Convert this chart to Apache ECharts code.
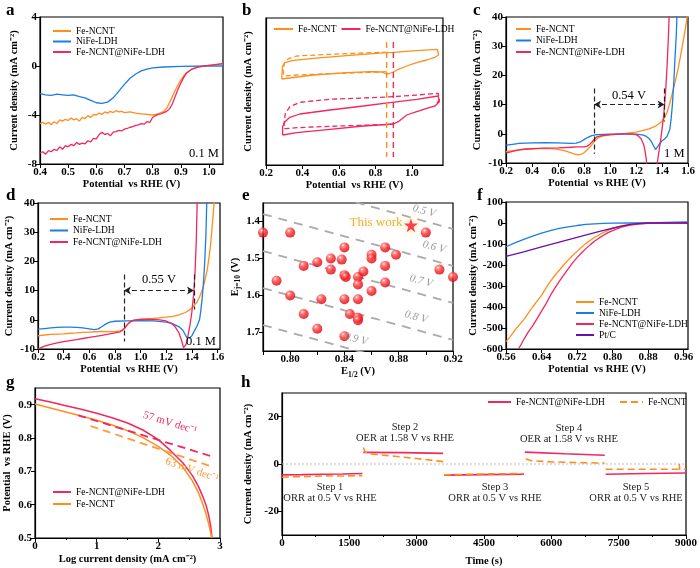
<!DOCTYPE html>
<html><head><meta charset="utf-8">
<script src="https://cdn.jsdelivr.net/npm/echarts@6/dist/echarts.min.js"></script>
<style>html,body{margin:0;padding:0;background:#fff}#c{width:700px;height:568px}</style>
</head><body><div id="c"></div>
<script>
// ---------- DATA ----------
// (a) ORR LSV in 0.1 M
const aFe = [[0.40,-4.7],[0.41,-4.6],[0.42,-4.75],[0.43,-4.6],[0.44,-4.8],[0.45,-4.55],[0.46,-4.7],[0.47,-4.4],[0.48,-4.5],[0.49,-4.35],[0.50,-4.45],[0.51,-4.25],[0.52,-4.4],[0.53,-4.3],[0.54,-4.5],[0.55,-4.2],[0.56,-4.3],[0.57,-4.05],[0.58,-4.2],[0.59,-3.95],[0.60,-4.0],[0.61,-3.85],[0.62,-3.95],[0.63,-3.75],[0.64,-3.85],[0.65,-3.7],[0.66,-3.8],[0.67,-3.65],[0.68,-3.75],[0.69,-3.7],[0.70,-3.8],[0.72,-3.75],[0.74,-3.85],[0.76,-3.9],[0.78,-3.95],[0.80,-4.0],[0.82,-3.9],[0.84,-3.7],[0.85,-3.45],[0.86,-3.0],[0.87,-2.5],[0.88,-2.0],[0.89,-1.55],[0.90,-1.15],[0.91,-0.8],[0.92,-0.55],[0.94,-0.25],[0.96,-0.1],[0.98,0],[1.00,0.05],[1.02,0.1],[1.05,0.2]];
const aNiFe = [[0.40,-2.25],[0.42,-2.35],[0.44,-2.4],[0.46,-2.3],[0.48,-2.35],[0.50,-2.4],[0.52,-2.35],[0.54,-2.5],[0.56,-2.6],[0.58,-2.8],[0.60,-3.0],[0.62,-3.05],[0.64,-2.95],[0.66,-2.6],[0.68,-2.05],[0.70,-1.5],[0.72,-1.0],[0.74,-0.65],[0.76,-0.4],[0.78,-0.25],[0.80,-0.15],[0.84,-0.08],[0.90,-0.03],[1.00,0],[1.05,0]];
const aHyb = [[0.40,-7.1],[0.41,-7.0],[0.42,-7.2],[0.43,-6.9],[0.44,-7.0],[0.45,-6.8],[0.46,-6.9],[0.47,-6.6],[0.48,-6.8],[0.49,-6.5],[0.50,-6.6],[0.51,-6.4],[0.52,-6.5],[0.53,-6.25],[0.54,-6.4],[0.55,-6.3],[0.56,-6.35],[0.57,-6.1],[0.58,-6.2],[0.59,-5.9],[0.60,-5.95],[0.61,-5.6],[0.62,-5.4],[0.63,-5.6],[0.64,-5.5],[0.65,-5.7],[0.66,-5.4],[0.67,-5.35],[0.68,-5.25],[0.69,-5.3],[0.70,-5.15],[0.71,-5.1],[0.72,-5.0],[0.73,-4.95],[0.74,-4.85],[0.75,-4.8],[0.76,-4.7],[0.77,-4.75],[0.78,-4.55],[0.79,-4.6],[0.80,-4.2],[0.81,-4.05],[0.82,-3.95],[0.83,-3.9],[0.84,-3.8],[0.85,-3.7],[0.86,-3.5],[0.87,-3.1],[0.88,-2.5],[0.89,-1.9],[0.90,-1.4],[0.91,-0.95],[0.92,-0.6],[0.94,-0.25],[0.96,-0.1],[1.00,0.05],[1.05,0.2]];
// (b) CV loops (relative current)
const bFeSolid = [[0.286,86],[0.290,98.3],[0.304,102.3],[0.341,104.3],[0.459,106.7],[0.642,109.3],[0.861,112.3],[0.898,112.7],[1.026,114.3],[1.139,115.7],[1.146,115],[1.146,110],[1.126,107.7],[1.080,105],[1.026,102.3],[0.971,99],[0.925,95.7],[0.898,93],[0.870,91],[0.852,91.7],[0.834,93],[0.770,93.3],[0.642,92.3],[0.459,90],[0.286,86]];
const bFeDash = [[0.861,93.3],[0.551,91.3],[0.368,90],[0.299,89],[0.295,93.3],[0.300,101.7],[0.322,106.3],[0.368,109],[0.551,110.7],[0.733,112],[0.861,112.7]];
const bHybSolid = [[0.291,30],[0.291,38.3],[0.304,43.3],[0.331,47.7],[0.386,51],[0.551,55],[0.733,59],[0.879,62.3],[1.026,65.7],[1.144,69],[1.150,69],[1.150,63.3],[1.126,59],[1.099,57.7],[1.026,53.3],[0.971,50],[0.925,43.3],[0.898,41],[0.733,39],[0.551,35.7],[0.368,32.3],[0.291,30]];
const bHybDash = [[0.898,40.7],[0.551,38.7],[0.368,37.3],[0.300,36.3],[0.299,41.7],[0.306,51.7],[0.331,58.3],[0.386,62.7],[0.551,65.7],[0.733,67],[0.898,68.3],[1.026,70],[1.144,71.7],[1.150,71],[1.150,65],[1.126,59.7]];
const bMarkV = [0.861, 0.898];
// (c) 1 M
const cFe = [[0.2,-6.0],[0.25,-5.8],[0.3,-5.5],[0.35,-5.3],[0.4,-5.2],[0.45,-5.1],[0.5,-5.0],[0.55,-5.1],[0.6,-5.3],[0.65,-5.8],[0.7,-6.5],[0.73,-7.0],[0.76,-7.2],[0.78,-7.0],[0.8,-6.5],[0.82,-5.7],[0.84,-4.8],[0.86,-3.8],[0.88,-2.6],[0.9,-1.7],[0.92,-1.1],[0.95,-0.7],[1.0,-0.4],[1.05,-0.2],[1.1,0],[1.15,0.3],[1.2,0.6],[1.25,1.1],[1.3,1.7],[1.35,2.6],[1.38,3.5],[1.4,4.3],[1.42,5.5],[1.44,7.5],[1.46,10.5],[1.48,14],[1.5,17.5],[1.52,21.5],[1.54,26],[1.56,31],[1.58,36],[1.595,40.5]];
const cNiFe = [[0.2,-3.9],[0.25,-3.6],[0.3,-3.3],[0.35,-3.2],[0.4,-3.1],[0.5,-3.0],[0.6,-3.1],[0.7,-3.3],[0.74,-3.2],[0.77,-2.8],[0.8,-2.0],[0.83,-1.2],[0.86,-0.6],[0.9,-0.3],[1.0,-0.15],[1.1,0],[1.2,-0.1],[1.25,-0.4],[1.28,-0.9],[1.3,-1.6],[1.32,-2.8],[1.34,-4.5],[1.35,-5.4],[1.36,-5.0],[1.38,-3.5],[1.4,-2.4],[1.42,-1.8],[1.44,-0.8],[1.46,1.5],[1.47,5],[1.48,10],[1.49,17],[1.5,26],[1.51,34],[1.515,40.5]];
const cHyb = [[0.2,-6.6],[0.25,-6.0],[0.3,-5.5],[0.35,-5.2],[0.4,-5.1],[0.5,-4.9],[0.6,-4.8],[0.7,-4.6],[0.75,-4.5],[0.8,-4.5],[0.82,-4.3],[0.84,-3.8],[0.86,-2.9],[0.88,-1.8],[0.9,-1.0],[0.95,-0.5],[1.0,-0.3],[1.1,0],[1.15,0],[1.2,-0.3],[1.22,-0.8],[1.24,-1.8],[1.26,-3.8],[1.27,-6],[1.28,-9],[1.285,-12],[1.30,-18],[1.34,-16],[1.36,-11],[1.37,-8],[1.38,-5],[1.39,-2],[1.40,1.5],[1.41,5],[1.42,10],[1.43,16],[1.44,24],[1.45,34],[1.455,40.5]];
const cGap = {left:0.877, right:1.42, j:10, top:15.5, leftLow:-6.8, rightLow:4.2};
// (d) 0.1 M
const dFe = [[0.2,-5.5],[0.25,-5.2],[0.3,-5.0],[0.35,-4.9],[0.4,-4.8],[0.45,-4.6],[0.5,-4.5],[0.55,-4.3],[0.6,-4.2],[0.65,-4.1],[0.7,-4.0],[0.75,-4.05],[0.8,-4.0],[0.84,-3.8],[0.86,-3.4],[0.88,-2.6],[0.9,-1.5],[0.92,-0.7],[0.95,-0.1],[1.0,0.2],[1.1,0.5],[1.2,0.9],[1.25,1.2],[1.3,1.7],[1.35,2.5],[1.38,3.3],[1.4,4.0],[1.42,5.0],[1.44,6.0],[1.46,7.8],[1.48,10],[1.5,13],[1.52,17],[1.53,20],[1.545,25],[1.555,30],[1.565,35],[1.575,40.5]];
const dNiFe = [[0.2,-3.2],[0.25,-3.0],[0.3,-2.8],[0.35,-2.6],[0.4,-2.5],[0.45,-2.5],[0.5,-2.6],[0.55,-2.8],[0.6,-3.1],[0.64,-3.4],[0.67,-3.1],[0.7,-2.3],[0.73,-1.4],[0.76,-0.8],[0.8,-0.5],[0.9,-0.35],[1.0,-0.3],[1.1,-0.4],[1.2,-0.8],[1.25,-1.3],[1.3,-2.4],[1.33,-3.6],[1.36,-6.0],[1.38,-6.3],[1.4,-5.5],[1.42,-3.8],[1.44,-2.2],[1.46,0],[1.47,3],[1.48,7],[1.49,12],[1.50,19],[1.51,29],[1.517,40.5]];
const dHyb = [[0.2,-10],[0.22,-9.6],[0.25,-9.0],[0.3,-8.4],[0.35,-7.9],[0.4,-7.5],[0.45,-7.1],[0.5,-6.8],[0.55,-6.4],[0.6,-6.0],[0.65,-5.7],[0.7,-5.3],[0.75,-4.9],[0.8,-4.5],[0.84,-4.1],[0.86,-3.6],[0.88,-2.7],[0.9,-1.5],[0.92,-0.7],[0.95,-0.1],[1.0,0.1],[1.1,0.1],[1.15,0],[1.2,-0.4],[1.24,-1.2],[1.27,-2.4],[1.3,-4.5],[1.32,-7],[1.335,-9.5],[1.345,-9.9],[1.355,-8.5],[1.37,-5.5],[1.385,-2],[1.40,2.5],[1.415,9],[1.425,16],[1.435,27],[1.442,40.5]];
const dGap = {left:0.87, right:1.417, j:10, top:15.5, leftLow:-7.4, rightLow:3.5};
// (e) E_j=10 vs E_1/2 comparison
const ePoints = [[0.78,1.43],[0.80,1.43],[0.79,1.56],[0.80,1.60],[0.81,1.52],[0.81,1.65],[0.82,1.51],[0.82,1.69],[0.83,1.50],[0.83,1.53],[0.823,1.61],[0.838,1.503],[0.84,1.47],[0.84,1.545],[0.841,1.55],[0.84,1.61],[0.84,1.71],[0.844,1.65],[0.85,1.55],[0.85,1.57],[0.85,1.61],[0.85,1.66],[0.85,1.667],[0.854,1.535],[0.86,1.49],[0.86,1.50],[0.86,1.588],[0.87,1.47],[0.87,1.52],[0.87,1.565],[0.878,1.49],[0.90,1.43],[0.91,1.53],[0.92,1.55]];
const eThisWork = [0.889, 1.41];
const eOffsets = [0.5, 0.6, 0.7, 0.8, 0.9];
// (f) high-current ORR
const fFe = [[0.56,-565],[0.57,-540],[0.58,-510],[0.59,-485],[0.60,-460],[0.61,-430],[0.62,-400],[0.63,-372],[0.64,-345],[0.65,-310],[0.66,-278],[0.67,-250],[0.68,-225],[0.69,-200],[0.70,-177],[0.71,-155],[0.72,-135],[0.73,-115],[0.74,-97],[0.75,-82],[0.76,-68],[0.77,-56],[0.78,-45],[0.79,-35],[0.80,-26],[0.82,-14],[0.84,-7],[0.86,-3],[0.88,-1],[0.90,0],[0.93,1],[0.97,2]];
const fNiFe = [[0.56,-113],[0.58,-95],[0.60,-78],[0.62,-62],[0.64,-48],[0.66,-36],[0.68,-26],[0.70,-18],[0.72,-12],[0.74,-7],[0.76,-4],[0.78,-2],[0.80,-1],[0.84,0],[0.88,1],[0.92,3],[0.97,5]];
const fHyb = [[0.588,-600],[0.595,-575],[0.60,-555],[0.61,-520],[0.62,-490],[0.63,-455],[0.64,-420],[0.65,-385],[0.66,-345],[0.67,-310],[0.68,-278],[0.69,-248],[0.70,-218],[0.71,-190],[0.72,-165],[0.73,-143],[0.74,-122],[0.75,-103],[0.76,-86],[0.77,-71],[0.78,-58],[0.79,-46],[0.80,-36],[0.82,-20],[0.84,-10],[0.86,-5],[0.88,-2],[0.90,-1],[0.93,0],[0.97,0]];
const fPtC = [[0.56,-159],[0.60,-137],[0.64,-114],[0.68,-91],[0.72,-68],[0.76,-46],[0.78,-35],[0.80,-25],[0.82,-15],[0.84,-7],[0.86,-2],[0.88,0],[0.97,0]];
// (g) Tafel
const gHyb = [[0,0.918],[0.25,0.908],[0.5,0.897],[0.75,0.886],[1.0,0.874],[1.25,0.861],[1.5,0.845],[1.75,0.824],[2.0,0.795],[2.2,0.762],[2.4,0.725],[2.55,0.688],[2.65,0.655],[2.72,0.625],[2.78,0.595],[2.82,0.565],[2.85,0.535],[2.87,0.5]];
const gFe = [[0,0.902],[0.25,0.890],[0.5,0.878],[0.75,0.866],[1.0,0.853],[1.25,0.839],[1.5,0.822],[1.75,0.801],[2.0,0.775],[2.2,0.748],[2.4,0.712],[2.55,0.672],[2.65,0.636],[2.72,0.603],[2.78,0.568],[2.82,0.54],[2.85,0.515],[2.865,0.5]];
const gHybTafel = [[0.7,0.868],[2.9,0.743]];
const gFeTafel = [[0.9,0.836],[2.9,0.712]];
// (h) chronoamperometry
const hHyb = [[0,-4.6],[450,-4.5],[900,-4.3],[1350,-4.2],[1790,-4.0],[1800,'-'],[1810,4.9],[2700,4.8],[3590,4.5],[3600,'-'],[3610,-4.7],[4500,-4.5],[5390,-4.3],[5400,'-'],[5410,5.0],[6300,4.3],[7190,3.7],[7200,'-'],[7210,-4.3],[8100,-4.0],[9000,-3.8]];
const hFe = [[0,-5.6],[300,-5.4],[600,-5.3],[940,-5.0],[950,-4.2],[960,-5.1],[1300,-5.1],[1790,-4.9],[1800,'-'],[1815,7.0],[1850,5.0],[1950,4.3],[2400,3.5],[3000,2.3],[3590,1.0],[3600,'-'],[3610,-4.6],[4500,-4.2],[5390,-4.0],[5400,'-'],[5430,2.2],[5550,1.4],[6000,0.9],[6600,0.6],[7190,0.4],[7200,'-'],[7210,-2.2],[8840,-2.2],[8850,0],[8860,-2.3],[9000,-2.2]];
const hZero = [[0,0],[9000,0]];
// tick labels
const eXTicks = [0.80, 0.84, 0.88, 0.92];
const eXMinor = [0.78, 0.80, 0.82, 0.84, 0.86, 0.88, 0.90, 0.92];
const eYTicks = [1.4, 1.5, 1.6, 1.7];
const hYTicks = [-20, 0, 20];

// ---------- STYLE ----------
const F = '"Liberation Serif","Times New Roman",serif';
const OR = '#FF8E1C', BL = '#1B7DE4', PK = '#F0285E', PU = '#6E10A6';
function isObj(o){return o && typeof o === 'object' && !Array.isArray(o);}
function merge(a,b){for(const k in b){if(isObj(b[k])&&isObj(a[k]))merge(a[k],b[k]);else a[k]=b[k];}return a;}
const grids = [
  {left:40,top:17,width:183,height:147},
  {left:266,top:18,width:177,height:147},
  {left:506,top:17,width:182,height:146},
  {left:38,top:203,width:182,height:146},
  {left:263,top:203,width:190,height:148},
  {left:506,top:202,width:182,height:147},
  {left:35,top:388,width:185,height:150},
  {left:282,top:393,width:405,height:142}
].map(g=>Object.assign({show:true,borderColor:'#000',borderWidth:1.2,backgroundColor:'transparent'},g));
function ax(grid,o){
  return merge({gridIndex:grid,type:'value',
    axisLine:{show:true,onZero:false,lineStyle:{color:'#000',width:1.2}},
    axisTick:{show:true,inside:false,length:4,lineStyle:{color:'#000',width:1}},
    axisLabel:{color:'#000',fontFamily:F,fontWeight:'bold',fontSize:11,margin:3},
    splitLine:{show:false},nameLocation:'middle',
    nameTextStyle:{color:'#000',fontFamily:F,fontWeight:'bold',fontSize:10.5}},o);
}
const f1 = v=>v.toFixed(1), f2 = v=>v.toFixed(2), f0 = v=>String(Math.round(v));
const POT = 'Potential  vs RHE (V)', CD = 'Current density (mA cm\u207B\u00B2)';
const subRich = {b:{fontFamily:F,fontWeight:'bold',fontSize:10.5,lineHeight:15,color:'#000'},s:{fontFamily:F,fontWeight:'bold',fontSize:7.5,lineHeight:7,verticalAlign:'bottom',color:'#000'}};
const xAxes = [
  ax(0,{min:0.4,max:1.05,interval:0.1,axisLabel:{formatter:f1,showMaxLabel:false},name:POT,nameGap:13}),
  ax(1,{min:0.2,max:1.17,interval:0.2,axisLabel:{formatter:f1,showMaxLabel:false},name:POT,nameGap:13}),
  ax(2,{min:0.2,max:1.6,interval:0.2,axisLabel:{formatter:f1},name:POT,nameGap:13}),
  ax(3,{min:0.2,max:1.62,interval:0.2,axisLabel:{formatter:f1,showMaxLabel:false},name:POT,nameGap:15}),
  ax(4,{min:0.78,max:0.92,axisLabel:{formatter:f2,customValues:eXTicks},axisTick:{customValues:eXMinor},name:'{b|E}{s|1/2}{b| (V)}',nameGap:11,nameTextStyle:{rich:subRich}}),
  ax(5,{min:0.56,max:0.97,interval:0.08,axisLabel:{formatter:f2,showMaxLabel:false},name:POT,nameGap:15}),
  ax(6,{min:0,max:3,interval:1,axisLabel:{formatter:f0},minorTick:{show:true,splitNumber:2,length:2,lineStyle:{color:'#000'}},name:'Log current density (mA cm\u207B\u00B2)',nameGap:16}),
  ax(7,{min:0,max:9000,interval:1500,axisLabel:{formatter:f0},minorTick:{show:true,splitNumber:2,length:2,lineStyle:{color:'#000'}},name:'Time (s)',nameGap:21})
];
const yAxes = [
  ax(0,{min:-8,max:4,interval:4,axisLabel:{formatter:f0},name:CD,nameGap:20}),
  ax(1,{min:0,max:147,axisLabel:{show:false},axisTick:{show:false},name:CD,nameGap:12}),
  ax(2,{min:-10,max:40,interval:10,axisLabel:{formatter:f0},name:CD,nameGap:23}),
  ax(3,{min:-10,max:40,interval:10,axisLabel:{formatter:f0},name:CD,nameGap:23}),
  ax(4,{min:1.35,max:1.75,inverse:true,axisLabel:{formatter:f1,customValues:eYTicks},axisTick:{customValues:eYTicks},name:'{b|E}{s|j=10}{b| (V)}',nameGap:14,nameTextStyle:{rich:subRich}}),
  ax(5,{min:-600,max:100,interval:100,axisLabel:{formatter:f0},name:CD,nameGap:26}),
  ax(6,{min:0.5,max:0.95,interval:0.1,axisLabel:{formatter:f1,showMaxLabel:false},name:'Potential  vs RHE (V)',nameGap:22}),
  ax(7,{min:-30,max:30,axisLabel:{formatter:f0,customValues:hYTicks},axisTick:{customValues:hYTicks},name:CD,nameGap:24})
];
function ln(name,g,data,color,extra){
  return merge({type:'line',name:name,xAxisIndex:g,yAxisIndex:g,data:data,symbol:'none',showSymbol:false,clip:true,silent:true,
    lineStyle:{color:color,width:1.3},itemStyle:{color:color}},extra||{});
}
function gapMarks(g){
  return {silent:true,label:{show:false},lineStyle:{type:[5,3],color:'#222',width:1.2},
    data:[
      [{coord:[g.left,g.j],symbol:'arrow',symbolSize:[6,7]},{coord:[g.right,g.j],symbol:'arrow',symbolSize:[6,7]}],
      [{coord:[g.left,g.top],symbol:'none'},{coord:[g.left,g.leftLow],symbol:'none'}],
      [{coord:[g.right,g.top],symbol:'none'},{coord:[g.right,g.rightLow],symbol:'none'}]
    ]};
}
const series = [
  ln('a:Fe-NCNT',0,aFe,OR), ln('a:NiFe-LDH',0,aNiFe,BL), ln('a:Fe-NCNT@NiFe-LDH',0,aHyb,PK),
  ln('b:Fe-NCNT',1,bFeSolid,OR), ln('b:fe-dash',1,bFeDash,OR,{lineStyle:{type:[5,3]}}),
  ln('b:Fe-NCNT@NiFe-LDH',1,bHybSolid,PK), ln('b:hyb-dash',1,bHybDash,PK,{lineStyle:{type:[5,3]}}),
  ln('b:v1',1,[[bMarkV[0],123],[bMarkV[0],8]],OR,{lineStyle:{type:[6,4],width:1.4}}),
  ln('b:v2',1,[[bMarkV[1],123],[bMarkV[1],8]],PK,{lineStyle:{type:[6,4],width:1.4}}),
  ln('c:Fe-NCNT',2,cFe,OR,{markLine:gapMarks(cGap)}), ln('c:NiFe-LDH',2,cNiFe,BL), ln('c:Fe-NCNT@NiFe-LDH',2,cHyb,PK),
  ln('d:Fe-NCNT',3,dFe,OR,{markLine:gapMarks(dGap)}), ln('d:NiFe-LDH',3,dNiFe,BL), ln('d:Fe-NCNT@NiFe-LDH',3,dHyb,PK),
  ...eOffsets.map(d=>ln('e:off'+d,4,[[0.78,0.78+d],[0.92,0.92+d]],'#AAAAAA',{lineStyle:{type:[9,7],width:1.8},z:1})),
  {type:'scatter',name:'e:lit',xAxisIndex:4,yAxisIndex:4,data:ePoints,symbol:'circle',symbolSize:10,silent:true,z:3,
    itemStyle:{color:{type:'radial',x:0.36,y:0.3,r:0.72,colorStops:[{offset:0,color:'#FFFFFF'},{offset:0.18,color:'#FF8080'},{offset:0.5,color:'#FF2A2A'},{offset:1,color:'#D8000F'}]}}},
  {type:'scatter',name:'e:this',xAxisIndex:4,yAxisIndex:4,data:[eThisWork],silent:true,z:5,
    symbol:'path://M50,0 L61,35 L98,35 L68,57 L79,91 L50,70 L21,91 L32,57 L2,35 L39,35 Z',symbolSize:14,
    itemStyle:{color:'#FF1030',shadowColor:'#FFD24D',shadowBlur:8}},
  ln('f:Fe-NCNT',5,fFe,OR), ln('f:NiFe-LDH',5,fNiFe,BL), ln('f:Fe-NCNT@NiFe-LDH',5,fHyb,PK), ln('f:Pt/C',5,fPtC,PU),
  ln('g:Fe-NCNT@NiFe-LDH',6,gHyb,PK,{lineStyle:{width:1.5}}), ln('g:Fe-NCNT',6,gFe,OR,{lineStyle:{width:1.5}}),
  ln('g:t1',6,gHybTafel,PK,{lineStyle:{type:[8,5],width:1.8}}), ln('g:t2',6,gFeTafel,'#FF9A3C',{lineStyle:{type:[8,5],width:1.8}}),
  ln('h:zero',7,hZero,'#BBBBBB',{lineStyle:{type:[2,2],width:1},z:1}),
  ln('h:Fe-NCNT@NiFe-LDH',7,hHyb,PK,{lineStyle:{width:1.6}}), ln('h:Fe-NCNT',7,hFe,OR,{lineStyle:{type:[7,4],width:1.6}})
];
const lgBase = {orient:'vertical',itemWidth:18,itemHeight:10,itemGap:1,padding:0,selectedMode:false,
  itemStyle:{opacity:0,color:'transparent',borderWidth:0},
  textStyle:{fontFamily:F,fontSize:9.5,color:'#000',lineHeight:10},formatter:n=>n.split(':')[1]};
function lg(o){return merge(merge({},lgBase),o);}
const legends = [
  lg({left:52,top:26,itemGap:0.5,data:['a:Fe-NCNT','a:NiFe-LDH','a:Fe-NCNT@NiFe-LDH']}),
  lg({left:273,top:24,orient:'horizontal',itemWidth:19,itemGap:4,data:['b:Fe-NCNT','b:Fe-NCNT@NiFe-LDH']}),
  lg({left:515,top:24,itemWidth:15,itemGap:1.5,data:['c:Fe-NCNT','c:NiFe-LDH','c:Fe-NCNT@NiFe-LDH']}),
  lg({left:49,top:214,itemGap:1.5,data:['d:Fe-NCNT','d:NiFe-LDH','d:Fe-NCNT@NiFe-LDH']}),
  lg({left:575,top:297,itemGap:1,data:['f:Fe-NCNT','f:NiFe-LDH','f:Fe-NCNT@NiFe-LDH','f:Pt/C']}),
  lg({left:52,top:487,itemGap:2,data:['g:Fe-NCNT@NiFe-LDH','g:Fe-NCNT']}),
  lg({left:487,top:397,orient:'horizontal',itemWidth:23,itemGap:14,data:['h:Fe-NCNT@NiFe-LDH','h:Fe-NCNT']})
];
function txt(x,y,text,o){
  return merge({type:'text',x:x,y:y,silent:true,z:100,style:{text:text,fill:'#000',font:'13px '+F,align:'left',verticalAlign:'middle'}},o||{});
}
const LET = 'bold 17px '+F;
const graphics = [
  txt(6,11,'a',{style:{font:LET}}), txt(242,11,'b',{style:{font:LET}}), txt(473,11,'c',{style:{font:LET}}),
  txt(6,196,'d',{style:{font:LET}}), txt(242,196,'e',{style:{font:LET}}), txt(477,196,'f',{style:{font:LET}}),
  txt(6,383,'g',{style:{font:LET}}), txt(241,383,'h',{style:{font:LET}}),
  txt(189,154,'0.1 M',{style:{font:'12.5px '+F}}),
  txt(629,96,'0.54 V',{style:{font:'12.5px '+F,align:'center'}}),
  txt(664,154,'1 M',{style:{font:'12.5px '+F}}),
  txt(159,280,'0.55 V',{style:{font:'12.5px '+F,align:'center'}}),
  txt(186,342,'0.1 M',{style:{font:'12.5px '+F}}),
  txt(376,223,'This work',{style:{font:'13px '+F,align:'center',fill:'#E2B448',textShadowColor:'#FFF0B0',textShadowBlur:4}}),
  ...[['0.5 V',424,211],['0.6 V',434,247],['0.7 V',421,281],['0.8 V',416,317],['0.9 V',356,339]].map(t=>txt(t[1],t[2],t[0],{rotation:-0.27,style:{font:'italic 11px '+F,align:'center',fill:'#999999'}})),
  txt(170,423,'57 mV dec\u207B\u00B9',{rotation:-0.30,style:{font:'11px '+F,align:'center',fill:PK}}),
  txt(192,470,'63 mV dec\u207B\u00B9',{rotation:-0.33,style:{font:'11px '+F,align:'center',fill:'#FF9A3C'}}),
  ...[['Step 1','ORR at 0.5 V vs RHE',330,487],['Step 2','OER at 1.58 V vs RHE',405,427],['Step 3','ORR at 0.5 V vs RHE',495,487],['Step 4','OER at 1.58 V vs RHE',569,428],['Step 5','ORR at 0.5 V vs RHE',636,487]]
    .flatMap(s=>[txt(s[2],s[3],s[0],{style:{font:'10.5px '+F,align:'center',fill:'#222'}}),txt(s[2],s[3]+11.5,s[1],{style:{font:'10.5px '+F,align:'center',fill:'#222'}})])
];
const chart = echarts.init(document.getElementById('c'),null,{renderer:'canvas'});
chart.setOption({animation:false,backgroundColor:'#fff',grid:grids,xAxis:xAxes,yAxis:yAxes,series:series,legend:legends,graphic:graphics});
</script></body></html>
